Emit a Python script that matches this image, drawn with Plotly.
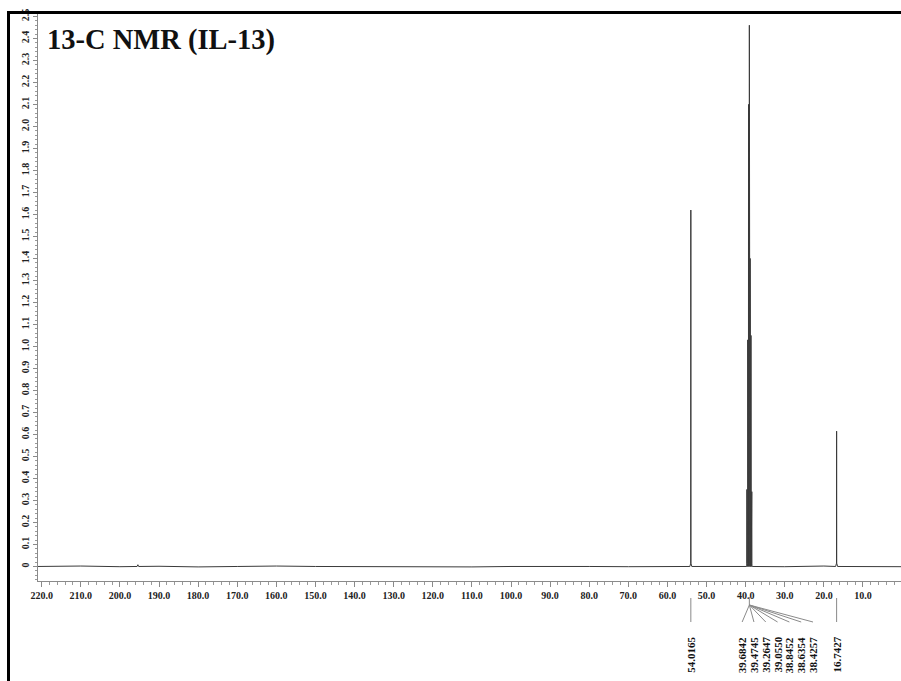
import plotly.graph_objects as go

# 13C NMR spectrum of IL-13 (DMSO-d6)
peak_ppm = [54.0165, 39.6842, 39.4745, 39.2647, 39.0550, 38.8452, 38.6354, 38.4257, 16.7427]
peak_height = [1.62, 0.35, 1.03, 2.10, 2.46, 1.40, 1.05, 0.34, 0.615]
peak_labels = ["54.0165", "39.6842", "39.4745", "39.2647", "39.0550",
               "38.8452", "38.6354", "38.4257", "16.7427"]

# solvent multiplet (labels fanned out below the axis)
solvent_labels = ["39.6842", "39.4745", "39.2647", "39.0550", "38.8452", "38.6354", "38.4257"]
single_labels = ["54.0165", "16.7427"]

# baseline readings across the sweep
baseline_ppm = [221.0, 210.0, 200.0, 195.6, 195.4, 195.2, 190.0, 180.0, 170.0, 160.0,
                150.0, 140.0, 130.0, 120.0, 110.0, 100.0, 90.0, 80.0, 70.0, 60.0,
                50.0, 45.0, 30.0, 20.0, 10.0, 0.2]
baseline_int = [0.0, 0.002, -0.001, 0.0, 0.008, 0.0, 0.001, -0.002, 0.0, 0.002,
                0.0, -0.001, 0.001, 0.0, -0.002, 0.0, 0.001, 0.0, -0.001, 0.0,
                0.0, 0.001, -0.001, 0.002, 0.0, -0.001]

x_tick_vals = [220, 210, 200, 190, 180, 170, 160, 150, 140, 130, 120, 110, 100,
               90, 80, 70, 60, 50, 40, 30, 20, 10]
x_tick_text = ["220.0", "210.0", "200.0", "190.0", "180.0", "170.0", "160.0", "150.0",
               "140.0", "130.0", "120.0", "110.0", "100.0", "90.0", "80.0", "70.0",
               "60.0", "50.0", "40.0", "30.0", "20.0", "10.0"]
y_tick_vals = [0, 0.1, 0.2, 0.3, 0.4, 0.5, 0.6, 0.7, 0.8, 0.9, 1.0, 1.1, 1.2,
               1.3, 1.4, 1.5, 1.6, 1.7, 1.8, 1.9, 2.0, 2.1, 2.2, 2.3, 2.4, 2.5]
y_tick_text = ["0", "0.1", "0.2", "0.3", "0.4", "0.5", "0.6", "0.7", "0.8", "0.9",
               "1.0", "1.1", "1.2", "1.3", "1.4", "1.5", "1.6", "1.7", "1.8", "1.9",
               "2.0", "2.1", "2.2", "2.3", "2.4", "2.5"]

# --- build the trace: baseline points plus a narrow line profile per peak ---
pts = list(zip(baseline_ppm, baseline_int))
FOOT, SHOULDER = 0.25, 0.03
for p, h in zip(peak_ppm, peak_height):
    pts += [(p + FOOT, 0.0), (p + SHOULDER, 0.015), (p, h), (p - SHOULDER, 0.015), (p - FOOT, 0.0)]
pts.sort(key=lambda t: -t[0])
xs = [a for a, _ in pts]
ys = [b for _, b in pts]

fig = go.Figure()
fig.add_trace(go.Scatter(x=xs, y=ys, mode="lines",
                         line=dict(color="#3a3a3a", width=1), hoverinfo="skip",
                         showlegend=False))

W, H = 901, 681
ML, MR, MT, MB = 38, 0, 14, 100
PW, PH = W - ML - MR, H - MT - MB


def py(Y):
    """pixel row -> paper y"""
    return (H - MB - Y) / PH


def px(X):
    """pixel column -> paper x"""
    return (X - ML) / PW


serif = "Liberation Serif, Times New Roman, serif"
shapes = []
annotations = []

# figure frame (left and top rules)
shapes.append(dict(type="line", xref="paper", yref="paper", x0=px(8.5), x1=px(8.5),
                   y0=py(12.5), y1=py(H + 2), line=dict(color="black", width=3)))
shapes.append(dict(type="line", xref="paper", yref="paper", x0=px(7), x1=px(W + 2),
                   y0=py(12.5), y1=py(12.5), line=dict(color="black", width=3)))

leader = dict(color="#8a8a8a", width=1)
lab_font = dict(family=serif, size=11, color="#111")
Y_LAB = py(655)

# single peaks: straight leader + rotated label
for lab in single_labels:
    p = peak_ppm[peak_labels.index(lab)]
    shapes.append(dict(type="line", xref="x", yref="paper", x0=p, x1=p,
                       y0=py(598), y1=py(622), line=leader))
    annotations.append(dict(x=p, y=Y_LAB, xref="x", yref="paper", text="<b>%s</b>" % lab,
                            textangle=-90, showarrow=False, font=lab_font,
                            xanchor="center", yanchor="middle"))

# solvent multiplet: common stub, fan of leaders, labels spread sideways
solv_ppm = [peak_ppm[peak_labels.index(l)] for l in solvent_labels]
hub = sum(solv_ppm) / len(solv_ppm)
shapes.append(dict(type="line", xref="x", yref="paper", x0=hub, x1=hub,
                   y0=py(597), y1=py(605), line=leader))
slot0, slot_step = 40.9, 3.02
for i, lab in enumerate(solvent_labels):
    sx = slot0 - i * slot_step
    shapes.append(dict(type="line", xref="x", yref="paper", x0=hub, x1=sx,
                       y0=py(605), y1=py(622), line=leader))
    annotations.append(dict(x=sx, y=Y_LAB, xref="x", yref="paper", text="<b>%s</b>" % lab,
                            textangle=-90, showarrow=False, font=lab_font,
                            xanchor="center", yanchor="middle"))

# title
annotations.append(dict(x=px(45), y=py(40), xref="paper", yref="paper",
                        text="<b>13-C NMR (IL-13)</b>", showarrow=False,
                        xanchor="left", yanchor="middle",
                        font=dict(family=serif, size=28.5, color="#111")))

tick_font = dict(family=serif, size=10, color="#222", weight="bold")

fig.update_layout(
    width=W, height=H,
    margin=dict(l=ML, r=MR, t=MT, b=MB, pad=0),
    paper_bgcolor="white", plot_bgcolor="white",
    shapes=shapes, annotations=annotations,
    showlegend=False,
    xaxis=dict(range=[220.94, 0.28], tickmode="array", tickvals=x_tick_vals,
               ticktext=x_tick_text, ticks="outside", ticklen=5, tickcolor="#8a8a8a",
               showline=True, linecolor="#8a8a8a", linewidth=1, showgrid=False,
               zeroline=False, tickfont=tick_font,
               minor=dict(tickmode="linear", tick0=0, dtick=2, ticks="outside",
                          ticklen=3, tickcolor="#9a9a9a")),
    yaxis=dict(range=[-0.066, 2.511], tickmode="array", tickvals=y_tick_vals,
               ticktext=y_tick_text, ticks="outside", ticklen=4, tickcolor="#8a8a8a",
               tickangle=-90, showline=True, linecolor="#8a8a8a", linewidth=1,
               showgrid=False, zeroline=False, tickfont=tick_font,
               minor=dict(tickmode="linear", tick0=0, dtick=0.02, ticks="outside",
                          ticklen=2, tickcolor="#9a9a9a")),
)

fig.write_html("out.html")
